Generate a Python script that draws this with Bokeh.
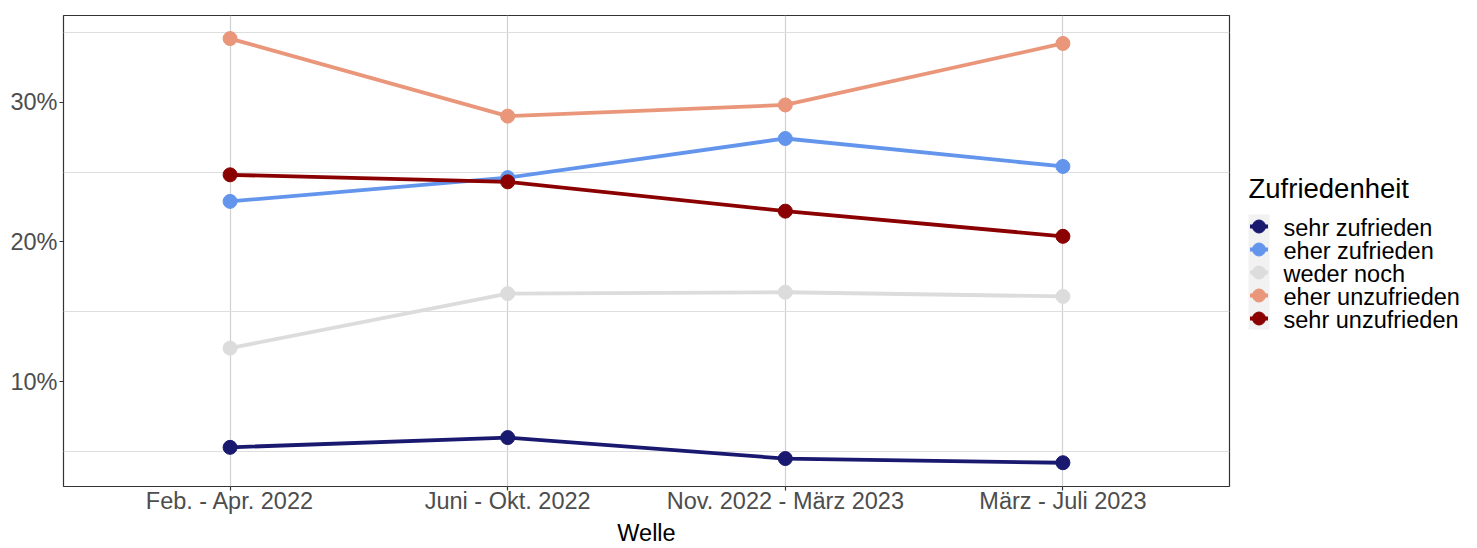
from bokeh.plotting import figure
from bokeh.models import Range1d, FixedTicker
from bokeh.layouts import row
from bokeh.core.properties import value
from bokeh.embed import file_html
from bokeh.resources import INLINE

# ---- data ----
waves = ["Feb. - Apr. 2022", "Juni - Okt. 2022", "Nov. 2022 - März 2023", "März - Juli 2023"]
wave_pos = [1, 2, 3, 4]
categories = ["sehr zufrieden", "eher zufrieden", "weder noch", "eher unzufrieden", "sehr unzufrieden"]
sehr_zufrieden = [5.3, 6.0, 4.5, 4.2]
eher_zufrieden = [22.9, 24.6, 27.4, 25.4]
weder_noch = [12.4, 16.3, 16.4, 16.1]
eher_unzufrieden = [34.55, 29.0, 29.8, 34.2]
sehr_unzufrieden = [24.8, 24.3, 22.2, 20.4]
y_ticks = [10, 20, 30]
y_tick_labels = ["10%", "20%", "30%"]
y_minor = [5, 15, 25, 35]
colors = ["#191970", "#6495ED", "#DCDCDC", "#E9967A", "#8B0000"]
legend_title = "Zufriedenheit"
x_title = "Welle"

series = [sehr_zufrieden, eher_zufrieden, weder_noch, eher_unzufrieden, sehr_unzufrieden]

FONT = "Liberation Sans"
TOP, FH = 15, 471

# ---- main panel ----
p = figure(frame_width=1166, frame_height=FH, output_backend="svg", toolbar_location=None,
           x_range=Range1d(0.4, 4.6), y_range=Range1d(2.5, 36.2),
           min_border_left=63, min_border_right=2, min_border_top=TOP, min_border_bottom=0)
p.background_fill_color = "white"
p.border_fill_color = "white"
p.outline_line_color = "#333333"
p.outline_line_width = 1.2

p.xaxis.ticker = FixedTicker(ticks=wave_pos)
p.xaxis.major_label_overrides = {pos: lab for pos, lab in zip(wave_pos, waves)}
p.yaxis.ticker = FixedTicker(ticks=y_ticks, minor_ticks=y_minor)
p.yaxis.major_label_overrides = {t: lab for t, lab in zip(y_ticks, y_tick_labels)}
for ax in (p.xaxis, p.yaxis):
    ax.axis_line_color = None
    ax.major_tick_line_color = "#333333"
    ax.major_tick_line_width = 1.2
    ax.major_tick_in = 0
    ax.major_tick_out = 4
    ax.minor_tick_line_color = None
    ax.major_label_text_font = FONT
    ax.major_label_text_font_size = "23.5px"
    ax.major_label_text_color = "#4D4D4D"
    ax.major_label_text_line_height = 1.0
p.yaxis.major_label_standoff = 2
p.xaxis.major_label_standoff = -3
p.xaxis.axis_label = x_title
p.xaxis.axis_label_text_font = FONT
p.xaxis.axis_label_text_font_size = "23.5px"
p.xaxis.axis_label_text_font_style = "normal"
p.xaxis.axis_label_text_color = "black"
p.xaxis.axis_label_text_line_height = 1.0
p.xaxis.axis_label_standoff = 3

p.xgrid.ticker = FixedTicker(ticks=wave_pos)
p.xgrid.grid_line_color = "#D0D0D0"
p.xgrid.grid_line_width = 1.2
p.ygrid.ticker = FixedTicker(ticks=y_ticks, minor_ticks=y_minor)
p.ygrid.grid_line_color = None
p.ygrid.minor_grid_line_color = "#DEDEDE"
p.ygrid.minor_grid_line_width = 1.2

for vals, col in zip(series, colors):
    p.line(wave_pos, vals, line_color=col, line_width=3.8)
for vals, col in zip(series, colors):
    p.scatter(wave_pos, vals, size=14, fill_color=col, line_color=col)

# ---- legend panel (pixel-coordinate figure, frame aligned with main frame) ----
LW = 244
lg = figure(frame_width=LW, frame_height=FH, output_backend="svg", toolbar_location=None,
            x_range=Range1d(0, LW), y_range=Range1d(TOP + FH, TOP),
            x_axis_type=None, y_axis_type=None,
            min_border_left=0, min_border_right=0, min_border_top=TOP, min_border_bottom=0)
lg.outline_line_color = None
lg.background_fill_color = "white"
lg.border_fill_color = "white"
lg.xgrid.visible = False
lg.ygrid.visible = False

n = len(categories)
step = 23
y0 = 226
ys = [y0 + i * step for i in range(n)]
key_left, key_right = 17, 38
key_cx = (key_left + key_right) / 2
lg.quad(left=[key_left], right=[key_right], top=[ys[0] - 12], bottom=[ys[-1] + 11],
        fill_color="#F2F2F2", line_color=None)
lg.segment(x0=[key_cx - 9] * n, x1=[key_cx + 9] * n, y0=ys, y1=ys,
           line_color=colors, line_width=3.8)
lg.scatter(x=[key_cx] * n, y=ys, size=13, fill_color=colors, line_color=colors)
lg.text(x=[52] * n, y=[y + 1 for y in ys], text=categories,
        text_font=value(FONT), text_font_size="23.5px", text_color="black",
        text_baseline="middle", text_align="left", text_line_height=1.0)
lg.text(x=[17], y=[188], text=[legend_title],
        text_font=value(FONT), text_font_size="27.5px", text_color="black",
        text_baseline="middle", text_align="left", text_line_height=1.0)

layout = row(p, lg, spacing=0)
open("out.html", "w").write(file_html(layout, INLINE))
